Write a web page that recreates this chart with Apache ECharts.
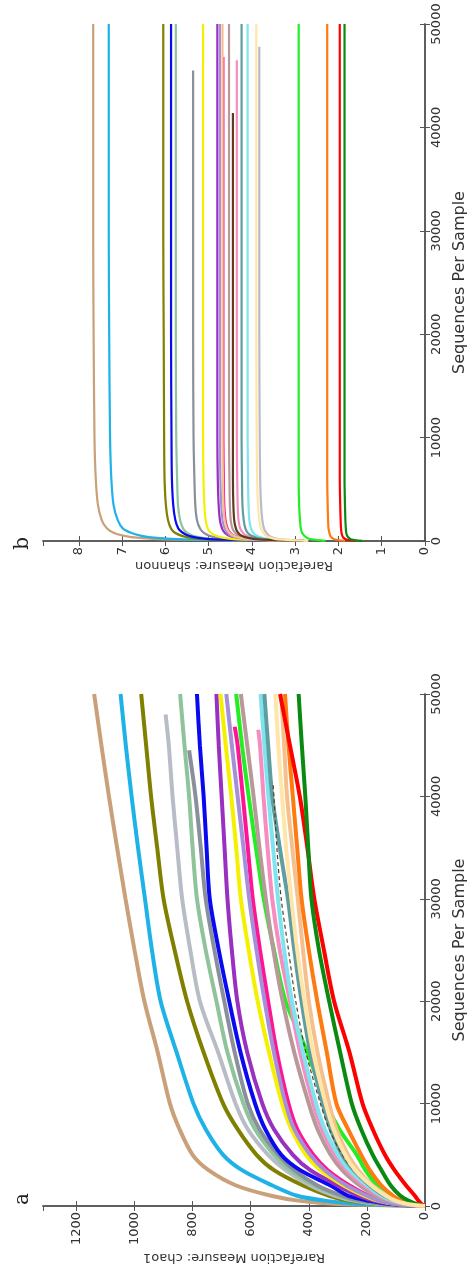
<!DOCTYPE html>
<html>
<head>
<meta charset="utf-8">
<script src="https://cdn.jsdelivr.net/npm/echarts@6/dist/echarts.min.js"></script>
<style>
  html, body { margin: 0; padding: 0; background: #fff; }
  #chart { width: 476px; height: 1275px; }
</style>
</head>
<body>
<div id="chart"></div>
<script>
// sequencing depths (rarefaction steps)
var depthA = [0, 200, 500, 1000, 2000, 3500, 5000, 7500, 10000, 15000, 20000, 25000, 30000, 35000, 40000, 45000, 50000];
var depthB = [10, 150, 300, 500, 800, 1200, 2000, 3500, 6000, 10000, 20000, 30000, 40000, 50000];

var sampleNames = ['s01', 's02', 's03', 's04', 's05', 's06', 's07', 's08', 's09', 's10', 's11',
  's12', 's13', 's14', 's15', 's16', 's17', 's18', 's19', 's20', 's21', 's22'];
var sampleColors = ['#c9a07a', '#1fb2e6', '#808000', '#b8bcc6', '#8fc39b', '#8a8f9c', '#0a0af0',
  '#9a30c0', '#f5f000', '#ff1493', '#a58fd8', '#22ee22', '#b89898', '#f78cc0', '#7fe3f0',
  '#5f9ea0', '#f6c08e', '#ff7a10', '#ff0000', '#0a8a10', '#5a3d1e', '#ffe6a8'];

// panel a : chao1 at depthA
var chao1 = [
  [0, 300, 430, 530, 650, 745, 800, 845, 878, 920, 966, 1000, 1031, 1060, 1088, 1114, 1139],
  [0, 230, 340, 440, 525, 630, 695, 755, 797, 855, 910, 940, 964, 988, 1010, 1030, 1048],
  [0, 170, 260, 330, 420, 520, 580, 645, 695, 762, 819, 862, 900, 922, 943, 960, 977],
  [0, 160, 240, 310, 395, 480, 540, 610, 652, 712, 775, 808, 836, 853, 869, 882, null],
  [0, 150, 230, 295, 380, 465, 520, 585, 625, 680, 718, 755, 785, 800, 812, 828, 843],
  [0, 140, 220, 285, 370, 450, 505, 570, 610, 655, 691, 725, 755, 772, 790, null, null],
  [0, 120, 190, 265, 325, 430, 495, 550, 585, 635, 674, 710, 741, 752, 762, 775, 785],
  [0, 110, 175, 230, 300, 395, 455, 520, 560, 612, 646, 665, 680, 690, 700, 710, 718],
  [0, 100, 160, 210, 280, 360, 410, 460, 492, 537, 576, 607, 634, 650, 667, 686, 704],
  [0, 90, 150, 195, 260, 335, 385, 440, 470, 510, 540, 568, 593, 610, 627, 645, null],
  [0, 95, 155, 200, 270, 345, 395, 450, 480, 520, 552, 580, 605, 625, 645, 665, 684],
  [0, 50, 85, 120, 165, 205, 235, 295, 340, 405, 480, 520, 555, 582, 607, 630, 650],
  [0, 75, 125, 170, 225, 285, 325, 370, 400, 450, 490, 522, 548, 570, 590, 612, 634],
  [0, 70, 115, 155, 210, 270, 310, 355, 385, 430, 465, 500, 526, 542, 556, 568, null],
  [0, 65, 110, 150, 200, 260, 300, 345, 375, 420, 458, 485, 506, 523, 539, 553, 566],
  [0, 60, 100, 140, 190, 245, 285, 325, 352, 395, 425, 450, 472, 500, 526, 540, 553],
  [0, 55, 95, 130, 180, 230, 265, 305, 330, 370, 400, 420, 438, 457, 475, 485, 495],
  [0, 45, 80, 110, 150, 190, 220, 265, 305, 338, 371, 400, 425, 440, 455, 470, 482],
  [0, 12, 22, 35, 65, 105, 138, 180, 215, 260, 313, 348, 381, 405, 431, 465, 499],
  [0, 30, 55, 85, 118, 150, 180, 220, 252, 292, 330, 365, 391, 402, 412, 424, 435],
  [0, 60, 100, 140, 190, 245, 285, 330, 360, 410, 445, 470, 495, 510, 520, null, null],
  [0, 60, 100, 135, 185, 240, 275, 315, 342, 385, 415, 440, 460, 478, 492, 505, 515]
];
var lastDepthA = [50000, 50000, 50000, 48000, 50000, 44500, 50000, 50000, 50000, 46800, 50000,
  50000, 50000, 46500, 50000, 50000, 50000, 50000, 50000, 50000, 41400, 50000];
var lastChao1 = [1139, 1048, 977, 893, 843, 812, 785, 718, 704, 655, 684,
  650, 634, 574, 566, 553, 495, 482, 499, 435, 524, 515];

// panel b : shannon at depthB
var shannon = [
  [3.2, 6.0, 6.6, 6.95, 7.2, 7.35, 7.47, 7.56, 7.61, 7.64, 7.66, 7.67, 7.67, 7.67],
  [3.1, 5.6, 6.2, 6.55, 6.8, 6.98, 7.1, 7.2, 7.25, 7.28, 7.3, 7.31, 7.31, 7.31],
  [3.0, 5.0, 5.4, 5.62, 5.78, 5.87, 5.94, 5.99, 6.02, 6.03, 6.04, 6.05, 6.05, 6.05],
  [2.7, 3.35, 3.5, 3.6, 3.67, 3.72, 3.76, 3.79, 3.81, 3.82, 3.83, 3.83, 3.83, null],
  [3.0, 4.8, 5.15, 5.36, 5.5, 5.59, 5.66, 5.71, 5.73, 5.75, 5.76, 5.76, 5.76, 5.76],
  [2.9, 4.5, 4.8, 4.99, 5.12, 5.2, 5.27, 5.31, 5.33, 5.35, 5.36, 5.36, 5.36, null],
  [3.0, 4.9, 5.25, 5.46, 5.6, 5.7, 5.77, 5.82, 5.85, 5.86, 5.87, 5.87, 5.87, 5.87],
  [2.9, 4.1, 4.38, 4.53, 4.63, 4.69, 4.74, 4.77, 4.79, 4.8, 4.8, 4.8, 4.8, 4.8],
  [2.9, 4.35, 4.65, 4.83, 4.95, 5.02, 5.07, 5.1, 5.12, 5.13, 5.13, 5.13, 5.13, 5.13],
  [2.9, 4.0, 4.26, 4.41, 4.5, 4.56, 4.61, 4.64, 4.65, 4.66, 4.66, 4.66, 4.66, null],
  [2.9, 4.05, 4.32, 4.48, 4.57, 4.63, 4.68, 4.71, 4.73, 4.74, 4.74, 4.74, 4.74, 4.74],
  [2.3, 2.62, 2.72, 2.79, 2.84, 2.87, 2.89, 2.91, 2.92, 2.92, 2.92, 2.92, 2.92, 2.92],
  [2.8, 3.9, 4.15, 4.3, 4.39, 4.45, 4.49, 4.51, 4.52, 4.53, 4.53, 4.53, 4.53, 4.53],
  [2.8, 3.75, 3.98, 4.12, 4.21, 4.27, 4.31, 4.33, 4.34, 4.35, 4.35, 4.35, 4.35, null],
  [2.8, 3.55, 3.76, 3.89, 3.97, 4.02, 4.06, 4.08, 4.09, 4.1, 4.1, 4.1, 4.1, 4.1],
  [2.8, 3.65, 3.88, 4.01, 4.1, 4.15, 4.19, 4.22, 4.23, 4.24, 4.24, 4.24, 4.24, 4.24],
  [2.9, 4.0, 4.27, 4.43, 4.52, 4.58, 4.63, 4.66, 4.67, 4.68, 4.68, 4.68, 4.68, 4.68],
  [1.85, 2.08, 2.15, 2.19, 2.21, 2.23, 2.24, 2.25, 2.26, 2.26, 2.26, 2.26, 2.26, 2.26],
  [1.6, 1.82, 1.88, 1.91, 1.93, 1.94, 1.95, 1.96, 1.97, 1.97, 1.97, 1.97, 1.97, 1.97],
  [1.45, 1.7, 1.76, 1.8, 1.82, 1.83, 1.84, 1.85, 1.86, 1.86, 1.86, 1.86, 1.86, 1.86],
  [2.8, 3.85, 4.09, 4.24, 4.32, 4.37, 4.41, 4.43, 4.44, 4.44, 4.44, 4.44, 4.44, null],
  [2.7, 3.4, 3.56, 3.67, 3.74, 3.79, 3.83, 3.86, 3.88, 3.89, 3.9, 3.9, 3.9, 3.9]
];
var lastDepthB = [50000, 50000, 50000, 47800, 50000, 45500, 50000, 50000, 50000, 46800, 50000,
  50000, 50000, 46500, 50000, 50000, 50000, 50000, 50000, 50000, 41400, 50000];
var lastShannon = [7.67, 7.31, 6.05, 3.83, 5.76, 5.36, 5.87, 4.8, 5.13, 4.66, 4.74,
  2.92, 4.53, 4.35, 4.1, 4.24, 4.68, 2.26, 1.97, 1.86, 4.44, 3.9];

var seqTicks = [0, 10000, 20000, 30000, 40000, 50000];

var chart = echarts.init(document.getElementById('chart'));

// points are [measure, depth] since the plot is turned on its side
function buildLine(values, depths, lastDepth, lastValue) {
  var pts = [];
  for (var i = 0; i < depths.length; i++) {
    if (values[i] != null && depths[i] < lastDepth) pts.push([values[i], depths[i]]);
  }
  pts.push([lastValue, lastDepth]);
  return pts;
}

var font = 'DejaVu Sans';
var lineCol = '#555';

function measureAxis(grid, max, interval, pos, name, gap) {
  return {
    gridIndex: grid,
    type: 'value',
    inverse: true,
    min: 0,
    max: max,
    interval: interval,
    position: pos,
    axisLine: { lineStyle: { color: lineCol, width: 1.5 } },
    axisTick: { inside: true, length: 5, lineStyle: { color: lineCol } },
    splitLine: { show: false },
    axisLabel: {
      show: !!name, rotate: 90, margin: 6, fontSize: 13, color: '#333',
      fontFamily: font, showMaxLabel: false,
      formatter: function (v) { return String(v); }
    },
    name: name || '',
    nameLocation: 'middle',
    nameRotate: 180,
    nameGap: gap || 0,
    nameTextStyle: { fontSize: 13, color: '#333', fontFamily: font }
  };
}

function seqAxis(grid, pos, name) {
  return {
    gridIndex: grid,
    type: 'value',
    min: 0,
    max: 50000,
    interval: 10000,
    position: pos,
    axisLine: { lineStyle: { color: lineCol, width: 1.5 } },
    axisTick: { inside: true, length: 5, lineStyle: { color: lineCol } },
    splitLine: { show: false },
    axisLabel: {
      show: !!name, rotate: 90, margin: 5, fontSize: 13, color: '#333', fontFamily: font,
      formatter: function (v) { return seqTicks.indexOf(v) >= 0 ? String(v) : ''; }
    },
    name: name || '',
    nameLocation: 'middle',
    nameRotate: 90,
    nameGap: 27,
    nameTextStyle: { fontSize: 16, color: '#333', fontFamily: font }
  };
}

var series = [];
for (var i = 0; i < sampleNames.length; i++) {
  var thin = sampleNames[i] === 's21';
  series.push({
    name: sampleNames[i] + ' chao1',
    type: 'line',
    xAxisIndex: 0,
    yAxisIndex: 0,
    showSymbol: false,
    smooth: 0.3,
    silent: true,
    data: buildLine(chao1[i], depthA, lastDepthA[i], lastChao1[i]),
    lineStyle: { color: sampleColors[i], width: thin ? 1.2 : 4, type: thin ? [4, 3] : 'solid' }
  });
  series.push({
    name: sampleNames[i] + ' shannon',
    type: 'line',
    xAxisIndex: 2,
    yAxisIndex: 2,
    showSymbol: false,
    smooth: 0.3,
    silent: true,
    data: buildLine(shannon[i], depthB, lastDepthB[i], lastShannon[i]),
    lineStyle: { color: sampleColors[i], width: 2.2 }
  });
}

chart.setOption({
  animation: false,
  backgroundColor: '#fff',
  grid: [
    { left: 43, top: 694, width: 392, height: 512 },
    { left: 43, top: 24, width: 394, height: 517 }
  ],
  xAxis: [
    measureAxis(0, 1315, 200, 'bottom', 'Rarefaction Measure: chao1', 45),
    measureAxis(0, 1315, 200, 'top'),
    measureAxis(1, 8.83, 1, 'bottom', 'Rarefaction Measure: shannon', 17),
    measureAxis(1, 8.83, 1, 'top')
  ],
  yAxis: [
    seqAxis(0, 'right', 'Sequences Per Sample'),
    seqAxis(0, 'left'),
    seqAxis(1, 'right', 'Sequences Per Sample'),
    seqAxis(1, 'left')
  ],
  graphic: [
    { type: 'text', left: 13, top: 1193, rotation: Math.PI / 2,
      style: { text: 'a', font: '20px "DejaVu Serif"', fill: '#222' } },
    { type: 'text', left: 13, top: 537, rotation: Math.PI / 2,
      style: { text: 'b', font: '20px "DejaVu Serif"', fill: '#222' } }
  ],
  series: series
});
</script>
</body>
</html>
